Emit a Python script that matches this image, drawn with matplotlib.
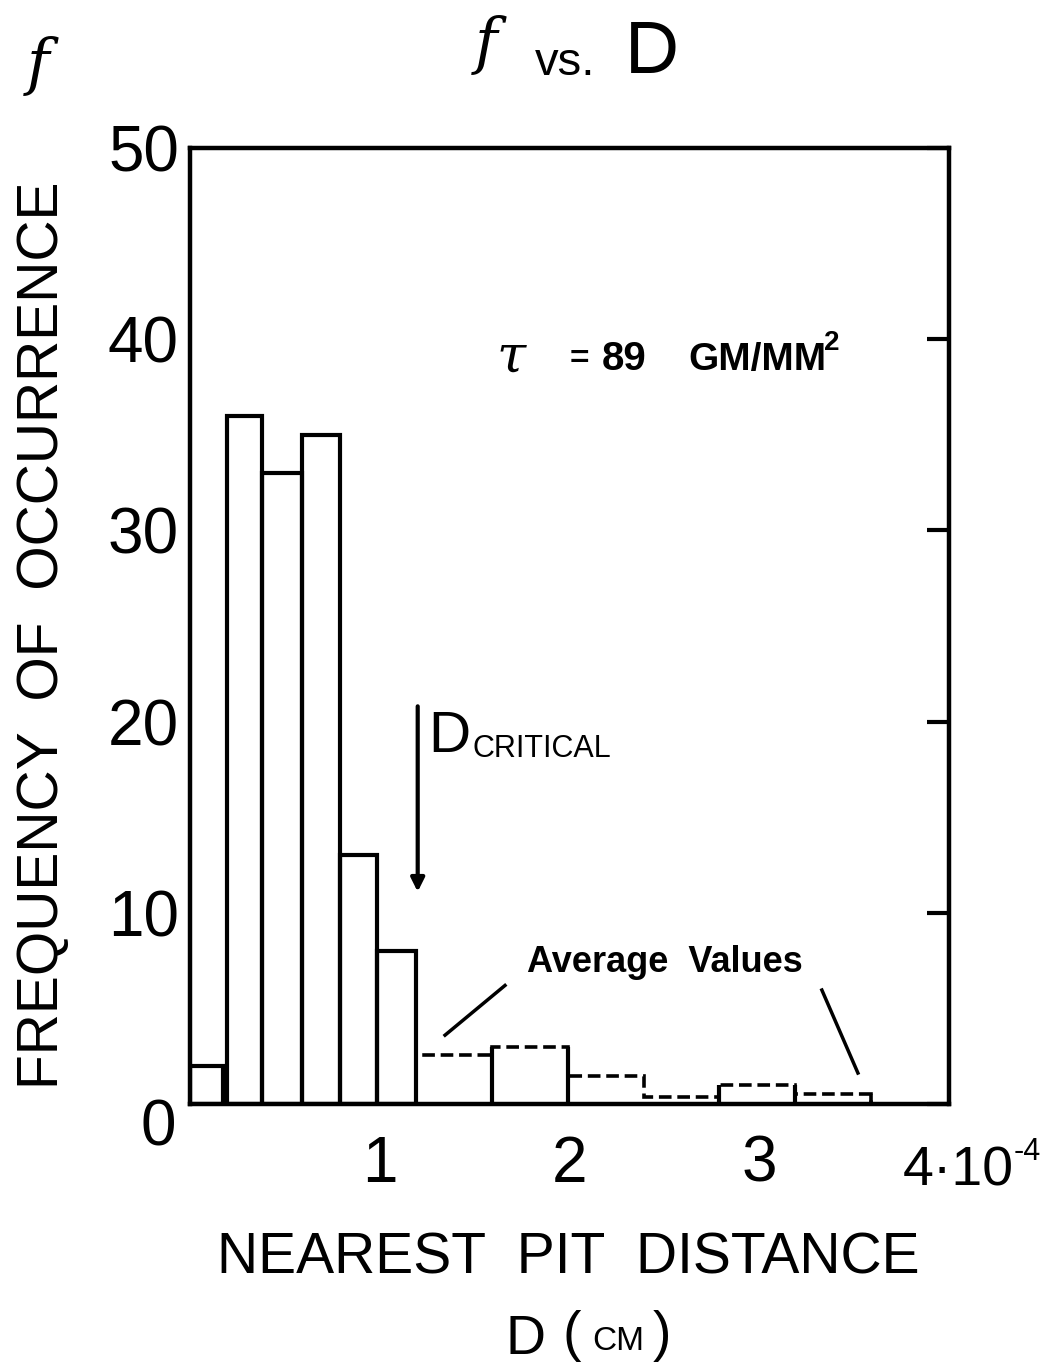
import numpy as np
import matplotlib
matplotlib.use("Agg")
import matplotlib.pyplot as plt

plt.rcParams['font.family'] = ['Liberation Sans', 'DejaVu Sans']
plt.rcParams['mathtext.fontset'] = 'custom'
plt.rcParams['mathtext.rm'] = 'Liberation Sans'
plt.rcParams['mathtext.it'] = 'DejaVu Serif:italic'

# measured bins (units of 1e-4 cm)
bin_left = [0.0, 0.195, 0.38, 0.59, 0.79, 0.985]
bin_right = [0.175, 0.38, 0.59, 0.79, 0.985, 1.19]
counts = [2, 36, 33, 35, 13, 8]

# averaged tail
avg_edges = [1.19, 1.59, 1.99, 2.39, 2.79, 3.19, 3.59]
avg_values = [2.55, 3.0, 1.45, 0.35, 1.0, 0.5]
avg_solid = [False, True, False, False, True, False]

yticks = [0, 10, 20, 30, 40, 50]
xticks = [1, 2, 3]

D_CRIT = 1.2

W, H = 1048, 1366
def px(x, y):
    return x / W, 1 - y / H

fig = plt.figure(figsize=(W / 100, H / 100), dpi=100)
ax = fig.add_axes([190 / W, 262 / H, 759 / W, 956 / H])

lw = 3.0
left = np.array(bin_left)
right = np.array(bin_right)
ax.bar(left, counts, width=right - left, align='edge', fill=False,
       edgecolor='black', linewidth=lw)

# dashed tops for the averaged values
dash = (0, (3.5, 1.6))
ax.stairs(avg_values, avg_edges, color='black', linewidth=2.6, linestyle=dash)
for i, solid in enumerate(avg_solid):
    if solid:
        ax.vlines([avg_edges[i], avg_edges[i + 1]], 0, avg_values[i],
                  color='black', linewidth=lw)
ax.vlines(avg_edges[-1], 0, avg_values[-1], color='black', linewidth=2.6)

ax.set_xlim(0, 4)
ax.set_ylim(0, 50)
for s in ax.spines.values():
    s.set_linewidth(3.2)

ax.set_yticks(yticks)
ax.set_yticklabels([''] + [str(v) for v in yticks[1:]], fontsize=46)
ax.tick_params(axis='y', left=False, right=True, direction='in',
               length=16, width=3, pad=8)
ax.set_xticks(xticks)
ax.set_xticklabels([str(v) for v in xticks], fontsize=46)
ax.tick_params(axis='x', bottom=False, length=0, pad=22)

# shifted zero and the last x label
fig.text(*px(158, 1129), '0', fontsize=46, ha='center', va='center')
fig.text(*px(903, 1186), '4\u00b710', fontsize=40, ha='left', va='baseline')
fig.text(*px(1014, 1160), '-4', fontsize=22, ha='left', va='baseline')

# D critical arrow
ax.annotate('', xy=(D_CRIT, 11.1), xytext=(D_CRIT, 20.8),
            arrowprops=dict(arrowstyle='-|>', lw=3, color='black',
                            mutation_scale=20, shrinkA=0, shrinkB=0))
fig.text(*px(428, 752), 'D', fontsize=42, ha='left', va='baseline')
fig.text(*px(472, 757), 'CRITICAL', fontsize=22, ha='left', va='baseline')

# average values label with leaders
fig.text(*px(527, 972), 'Average  Values', fontsize=26, fontweight='bold',
         ha='left', va='baseline')
ax.plot([1.344, 1.66], [3.6, 6.2], color='black', lw=2.5)
ax.plot([3.33, 3.52], [5.96, 1.62], color='black', lw=2.5)

# tau annotation
fig.text(*px(512, 372), r'$\tau$', fontsize=38, ha='center', va='baseline')
fig.text(*px(570, 368), '=', fontsize=24, fontweight='bold',
         ha='left', va='baseline')
fig.text(*px(602, 370), '89', fontsize=29, fontweight='bold',
         ha='left', va='baseline')
fig.text(*px(688, 370), 'GM/MM', fontsize=28, fontweight='bold',
         ha='left', va='baseline')
fig.text(*px(824, 350), '2', fontsize=20, fontweight='bold',
         ha='left', va='baseline')

# axis labels
fig.text(*px(568, 1258), 'NEAREST  PIT  DISTANCE', fontsize=41,
         ha='center', va='center')
fig.text(*px(505, 1354), 'D', fontsize=40, ha='left', va='baseline')
fig.text(*px(572, 1350), '(', fontsize=40, ha='center', va='baseline')
fig.text(*px(592, 1350), 'CM', fontsize=24, ha='left', va='baseline')
fig.text(*px(662, 1350), ')', fontsize=40, ha='center', va='baseline')
fig.text(*px(43, 635), 'FREQUENCY  OF  OCCURRENCE', fontsize=41,
         rotation=90, ha='center', va='center')

# title
fig.text(*px(38, 66), 'f', fontsize=44, family='DejaVu Serif', style='italic',
         ha='center', va='center')
fig.text(*px(486, 45), 'f', fontsize=44, family='DejaVu Serif', style='italic',
         ha='center', va='center')
fig.text(*px(535, 75), 'vs.', fontsize=34, ha='left', va='baseline')
fig.text(*px(625, 73), 'D', fontsize=54, ha='left', va='baseline')

fig.savefig('out.png', dpi=100)
